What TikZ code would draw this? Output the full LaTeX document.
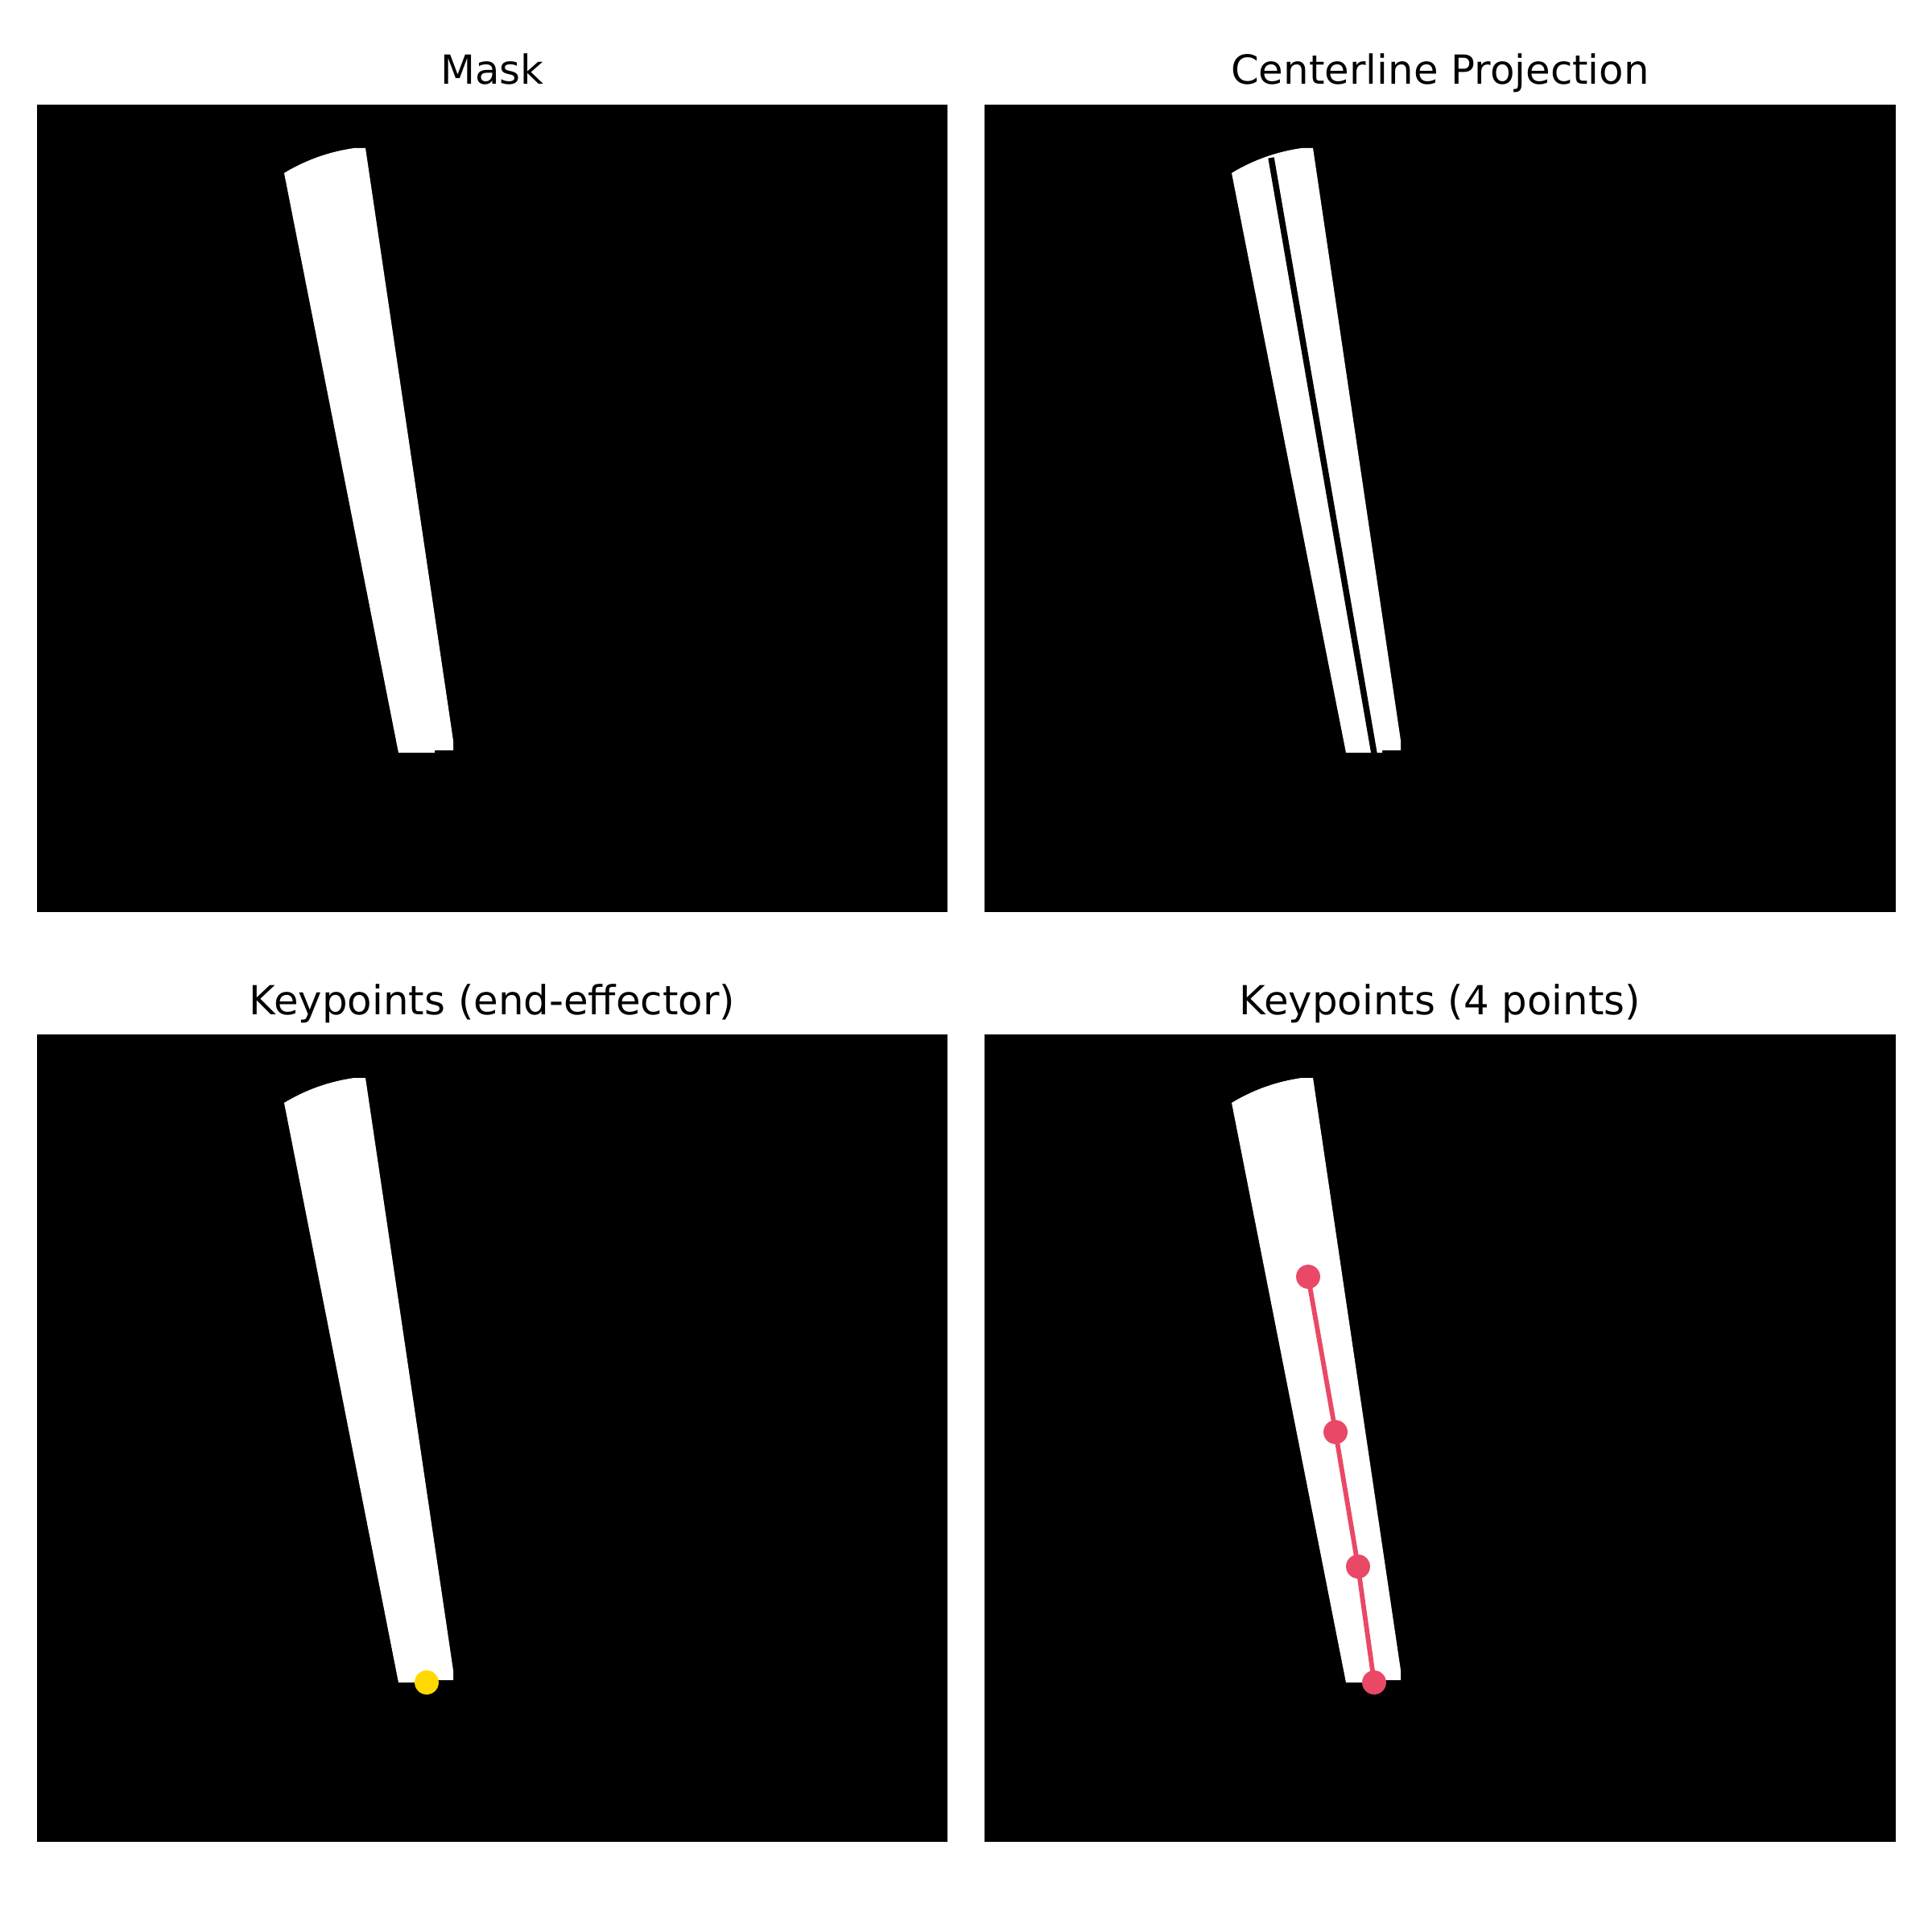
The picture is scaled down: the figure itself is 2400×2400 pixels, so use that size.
\documentclass[tikz,border=0pt]{standalone}
\usepackage{fontspec}
\setmainfont{DejaVu Sans}
\definecolor{kpred}{RGB}{233,72,103}
\definecolor{eegold}{RGB}{255,217,0}
\tikzset{
  panel/.style={fill=black},
  ptitle/.style={anchor=base,font=\fontsize{12}{14}\selectfont,inner sep=0pt},
  toolfill/.style={fill=white},
  centerln/.style={draw=black,line width=1.8pt},
  kpline/.style={draw=kpred,line width=1.4pt},
  kpdot/.style={circle,fill=kpred,inner sep=0pt,minimum size=7.2pt},
  eedot/.style={circle,fill=eegold,inner sep=0pt,minimum size=7.2pt}
}
\newcommand{\toolmask}{%
  \fill[toolfill] (353,215) .. controls (376,201) and (405,189) .. (440,184)
    -- (454,184) -- (563,920) -- (563,932) -- (540,932) -- (540,935) -- (495,935) -- cycle;}
\begin{document}
\begin{tikzpicture}[x=0.0084667cm,y=-0.0084667cm]
\useasboundingbox (0,0) rectangle (2400,2400);
\fill[white] (0,0) rectangle (2400,2400);
% panels
\fill[panel] (46,130) rectangle (1177,1133);
\fill[panel] (1223,130) rectangle (2355,1133);
\fill[panel] (46,1285) rectangle (1177,2288);
\fill[panel] (1223,1285) rectangle (2355,2288);
% titles
\node[ptitle] (t1) at (611.5,105) {Mask};
\node[ptitle] (t2) at (1789,105) {Centerline Projection};
\node[ptitle] (t3) at (611.5,1260) {Keypoints (end-effector)};
\node[ptitle] (t4) at (1789,1260) {Keypoints (4 points)};
% panel 1: mask
\toolmask
% panel 2: centerline projection
\begin{scope}[shift={(1177,0)}]
  \toolmask
  \coordinate (c1) at (402,196);
  \coordinate (c2) at (530,936);
  \draw[centerln] (c1) -- (c2);
\end{scope}
% panel 3: end-effector keypoint
\begin{scope}[shift={(0,1155)}]
  \toolmask
  \node[eedot] (ee) at (530,935) {};
\end{scope}
% panel 4: 4 keypoints
\begin{scope}[shift={(1177,1155)}]
  \toolmask
  \coordinate (p1) at (448,431);
  \coordinate (p2) at (482,624);
  \coordinate (p3) at (510,791);
  \coordinate (p4) at (530,935);
  \draw[kpline] (p1) -- (p2) -- (p3) -- (p4);
  \node[kpdot] (k1) at (p1) {};
  \node[kpdot] (k2) at (p2) {};
  \node[kpdot] (k3) at (p3) {};
  \node[kpdot] (k4) at (p4) {};
\end{scope}
\end{tikzpicture}
\end{document}
